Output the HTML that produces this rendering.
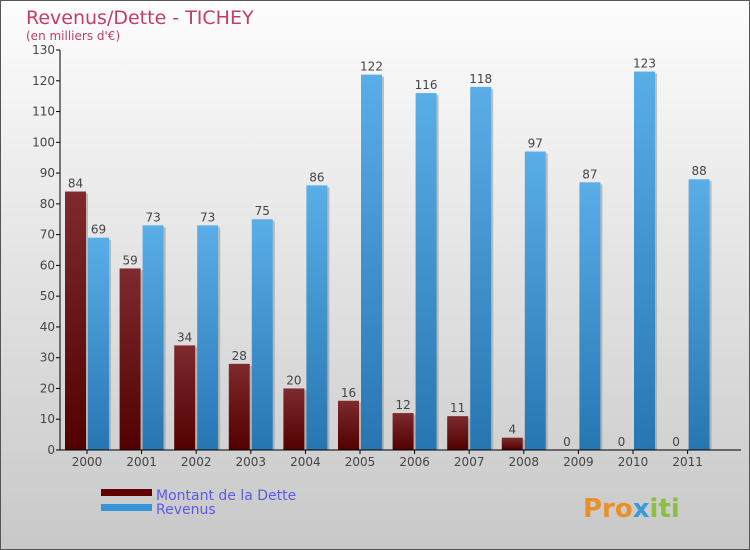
<!DOCTYPE html>
<html><head><meta charset="utf-8"><style>
body{margin:0}
#c{width:748px;height:548px;border:1px solid #555;background:linear-gradient(#fdfdfd,#c8c8c8);position:relative;font-family:"DejaVu Sans","Liberation Sans",sans-serif;overflow:hidden}
</style></head><body>
<div id="c">
<svg id="s" width="748" height="548">
<defs>
<linearGradient id="gd" x1="0" y1="0" x2="0" y2="1"><stop offset="0" stop-color="#7e2a2e"/><stop offset="1" stop-color="#520000"/></linearGradient>
<linearGradient id="gr" x1="0" y1="0" x2="0" y2="1"><stop offset="0" stop-color="#5aaee8"/><stop offset="1" stop-color="#2676b2"/></linearGradient>
</defs>
<text x="25" y="23" font-size="19" fill="#c43c6c">Revenus/Dette - TICHEY</text>
<text x="25" y="39" font-size="12" fill="#c43c6c">(en milliers d'€)</text>
<g id="g"></g>
<rect x="100" y="488" width="51" height="7" fill="#600000"/>
<rect x="100" y="503" width="51" height="7" fill="#3595d8"/>
<text x="155" y="499" font-size="14" fill="#5a5ae8">Montant de la Dette</text>
<text x="155" y="513" font-size="14" fill="#5a5ae8">Revenus</text>
<text x="582" y="516" font-size="26" font-weight="bold" fill="#e8902a">Pro<tspan fill="#3a9ad8">x</tspan><tspan fill="#8ac040">iti</tspan></text>
</svg>
</div>
<script>
const years=["2000","2001","2002","2003","2004","2005","2006","2007","2008","2009","2010","2011"];
const dette=[84,59,34,28,20,16,12,11,4,0,0,0];
const revenus=[69,73,73,75,86,122,116,118,97,87,123,88];
const ticks=[0,10,20,30,40,50,60,70,80,90,100,110,120,130];
const NS="http://www.w3.org/2000/svg";
const g=document.getElementById('g');
const x0=59,y0=449,ppu=400/130,band=54.6,first=86;
const y=v=>y0-v*ppu;
function el(t,a,txt){const e=document.createElementNS(NS,t);for(const k in a)e.setAttribute(k,a[k]);if(txt!==undefined)e.textContent=txt;g.appendChild(e);return e;}
ticks.forEach(t=>{
const l=el('line',{x1:x0-4,x2:x0,y1:y(t),y2:y(t),stroke:'#000'});


const tx=el('text',{x:x0-5,y:y(t)+4,'font-size':12,'text-anchor':'end',fill:'#444'},t);


});
years.forEach((yr,i)=>{
const c=first+i*band;
[[dette[i],c-22,'url(#gd)','bar-dette'],[revenus[i],c+1,'url(#gr)','bar-revenus']].forEach(([v,bx,f,n])=>{
const r=el('rect',{x:bx,y:y(v),width:21,height:v*ppu,fill:f});


const sh=el('rect',{x:bx+21,y:y(v)+2,width:2,height:Math.max(v*ppu-2,0),fill:'#999',opacity:0.6});


const lb=el('text',{x:bx+10.5,y:y(v)-4,'font-size':12,'text-anchor':'middle',fill:'#444'},v);


});
const tk=el('line',{x1:c,x2:c,y1:y0,y2:y0+4,stroke:'#000'});


const xl=el('text',{x:c,y:y0+16,'font-size':12,'text-anchor':'middle',fill:'#444'},yr);


});
const ya=el('line',{x1:x0,x2:x0,y1:y(130),y2:y0,stroke:'#000'});


const xa=el('line',{x1:x0,x2:740,y1:y0,y2:y0,stroke:'#000'});


</script>
</body></html>
